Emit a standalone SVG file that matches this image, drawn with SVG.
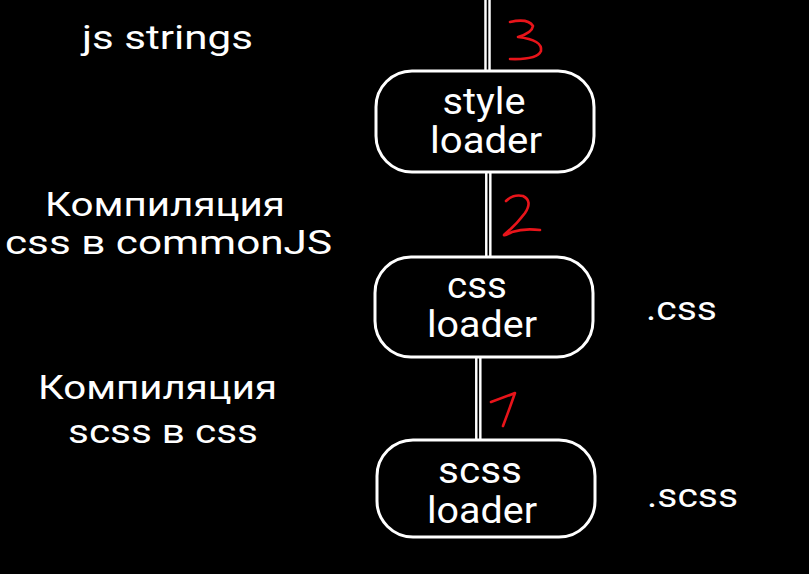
<svg xmlns="http://www.w3.org/2000/svg" width="809" height="574" viewBox="0 0 809 574">
<style>
text{font-family:Roboto,"Noto Sans","DejaVu Sans",sans-serif;fill:#fff}
.n{font-size:37px;text-anchor:middle}
.l{font-size:33px}
.box{fill:#000;stroke:#fff;stroke-width:3}
.wo{stroke:#fff;stroke-width:6.5;fill:none}
.wi{stroke:#000;stroke-width:1.6;fill:none}
.red{stroke:#e8141a;stroke-width:2.6;fill:none;stroke-linecap:round;stroke-linejoin:round}
</style>
<rect width="809" height="574" fill="#000"/>
<g id="connectors">
<line class="wo" x1="487.5" y1="0" x2="487.5" y2="72"/>
<line class="wi" x1="487.5" y1="0" x2="487.5" y2="72"/>
<line class="wo" x1="488.3" y1="171" x2="488.3" y2="258"/>
<line class="wi" x1="488.3" y1="171" x2="488.3" y2="258"/>
<line class="wo" x1="478.3" y1="356" x2="478.3" y2="441"/>
<line class="wi" x1="478.3" y1="356" x2="478.3" y2="441"/>
</g>
<g id="style-loader">
<rect class="box" x="376" y="71" width="218" height="101" rx="36"/>
<text class="n" x="484" y="114" textLength="83" lengthAdjust="spacingAndGlyphs">style</text>
<text class="n" x="486" y="153" textLength="112" lengthAdjust="spacingAndGlyphs">loader</text>
</g>
<g id="css-loader">
<rect class="box" x="375" y="257" width="218" height="100" rx="36"/>
<text class="n" x="477" y="298" textLength="60" lengthAdjust="spacingAndGlyphs">css</text>
<text class="n" x="482" y="337" textLength="110" lengthAdjust="spacingAndGlyphs">loader</text>
</g>
<g id="scss-loader">
<rect class="box" x="377" y="440" width="218" height="97" rx="36"/>
<text class="n" x="480" y="483" textLength="84" lengthAdjust="spacingAndGlyphs">scss</text>
<text class="n" x="482" y="523" textLength="110" lengthAdjust="spacingAndGlyphs">loader</text>
</g>
<g id="labels">
<text class="l" x="82" y="49" textLength="171" lengthAdjust="spacingAndGlyphs">js strings</text>
<text class="l" x="45" y="216" textLength="240" lengthAdjust="spacingAndGlyphs">Компиляция</text>
<text class="l" x="5" y="254" textLength="327" lengthAdjust="spacingAndGlyphs">css в commonJS</text>
<text class="l" x="38" y="399" textLength="239" lengthAdjust="spacingAndGlyphs">Компиляция</text>
<text class="l" x="68" y="443" textLength="190" lengthAdjust="spacingAndGlyphs">scss в css</text>
<text class="l" x="646" y="320" textLength="71" lengthAdjust="spacingAndGlyphs">.css</text>
<text class="l" x="647" y="507" textLength="91" lengthAdjust="spacingAndGlyphs">.scss</text>
</g>
<g id="numbers">
<path class="red" d="M510,22 Q528,18 533,26 Q532,33 518,37 Q543,40 541,51 Q537,60 510,59"/>
<path class="red" d="M506,201 Q513,194 523,196 Q533,201 525,213 Q516,225 506,233 Q500,238 512,232 Q524,228 540,230"/>
<path class="red" d="M491,402 Q505,397 515,393 Q509,410 503,426"/>
</g>
</svg>
